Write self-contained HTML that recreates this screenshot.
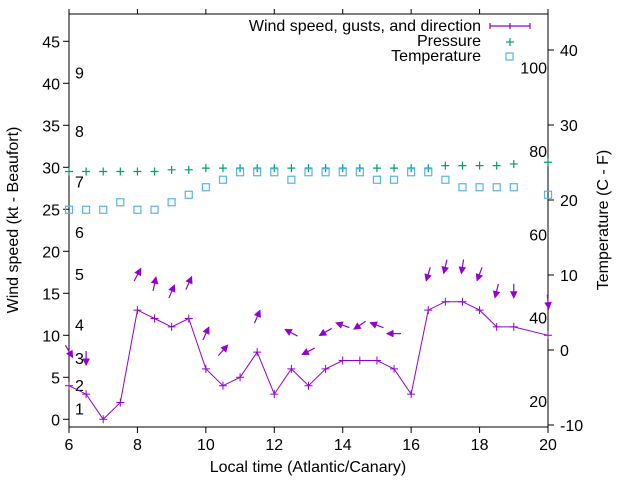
<!DOCTYPE html>
<html><head><meta charset="utf-8"><style>
body{margin:0;background:#fff}
svg{display:block;font-family:"Liberation Sans",sans-serif}
</style></head><body>
<svg id="chart" width="640" height="480" viewBox="0 0 640 480" xmlns="http://www.w3.org/2000/svg">
<g id="axes"></g>
<g id="series"></g>
<g id="legend">
  <text x="481" y="31" text-anchor="end" font-size="16">Wind speed, gusts, and direction</text>
  <g stroke="#9400d3" stroke-width="1.2">
    <line x1="490" y1="26" x2="530" y2="26"/><line x1="490" y1="23" x2="490" y2="29"/><line x1="510" y1="23" x2="510" y2="29"/><line x1="530" y1="23" x2="530" y2="29"/>
  </g>
  <text x="481" y="46" text-anchor="end" font-size="16">Pressure</text>
  <g stroke="#009e73" stroke-width="1.2"><line x1="506" y1="42" x2="514" y2="42"/><line x1="510" y1="38" x2="510" y2="46"/></g>
  <text x="481" y="61" text-anchor="end" font-size="16">Temperature</text>
  <rect x="506" y="53" width="7" height="7" fill="none" stroke="#56b4e9" stroke-width="1.2"/>
</g>
</svg>
<script>
const windTimes=[6,6.5,7,7.5,8,8.5,9,9.5,10,10.5,11,11.5,12,12.5,13,13.5,14,14.5,15,15.5,16,16.5,17,17.5,18,18.5,19,20];
const windSpeed=[4,3,0,2,13,12,11,12,6,4,5,8,3,6,4,6,7,7,7,6,3,13,14,14,13,11,11,10];
const pressTimes=[6,6.5,7,7.5,8,8.5,9,9.5,10,10.5,11,11.5,12,12.5,13,13.5,14,14.5,15,15.5,16,16.5,17,17.5,18,18.5,19,20];
const pressure=[29.5,29.5,29.5,29.5,29.5,29.5,29.7,29.7,29.9,29.9,29.9,29.9,29.9,29.9,29.9,29.9,29.9,29.9,29.9,29.9,29.9,29.9,30.2,30.2,30.2,30.2,30.4,30.6];
const tempTimes=[6,6.5,7,7.5,8,8.5,9,9.5,10,10.5,11,11.5,12,12.5,13,13.5,14,14.5,15,15.5,16,16.5,17,17.5,18,18.5,19,20];
const temperature=[18.7,18.7,18.7,19.7,18.7,18.7,19.7,20.7,21.7,22.7,23.7,23.7,23.7,22.7,23.7,23.7,23.7,23.7,22.7,22.7,23.7,23.7,22.7,21.7,21.7,21.7,21.7,20.7];
const arrowTimes=[6,6.5,8,8.5,9,9.5,10,10.5,11.5,12.5,13,13.5,14,14.5,15,15.5,16.5,17,17.5,18,18.5,19,20];
const arrowLevel=[8.1,7.3,17.2,16.1,15.2,16.2,10.2,8.2,12.2,10.3,8.1,10.4,11.2,11.2,11.2,10.2,17.3,18.2,18.2,17.3,15.3,15.3,14.0];
const arrowBearing=[149,180,28,12,23,24,25,42,23,298,243,240,290,236,291,270,197,193,189,201,194,180,174];
const xTicks=[6,8,10,12,14,16,18,20];
const yTicks=[0,5,10,15,20,25,30,35,40,45];
const y2Ticks=[-10,0,10,20,30,40];
const fLabels=[20,40,60,80,100];
const bftLabels=[1,2,3,4,5,6,7,8,9];
const bftLevels=[1.3,4.1,7.3,11.3,17.3,22.3,28.3,34.3,41.3];

const L=69,R=548,T=14,B=427;
const xs=t=>L+(t-6)*(R-L)/14;
const ys=v=>419.3-v*8.4;
const y2=c=>350-c*7.5;
const NS='http://www.w3.org/2000/svg';
function mk(tag,attrs,parent,text){const e=document.createElementNS(NS,tag);for(const k in attrs)e.setAttribute(k,attrs[k]);if(text!==undefined)e.textContent=text;parent.appendChild(e);return e;}
const ax=document.getElementById('axes'),se=document.getElementById('series');

let e=mk('rect',{x:L,y:T,width:R-L,height:B-T,fill:'none',stroke:'#000','stroke-width':1},ax);


xTicks.forEach(t=>{
  const x=xs(t);
  let l=mk('line',{x1:x,y1:B,x2:x,y2:B+6,stroke:'#000'},ax);
  
  
  l=mk('line',{x1:x,y1:T,x2:x,y2:T-5,stroke:'#000'},ax);
  
  
  const tx=mk('text',{x:x,y:B+23,'text-anchor':'middle','font-size':16},ax,String(t));
  
  
});
yTicks.forEach(v=>{
  const y=ys(v);
  const l=mk('line',{x1:L-6,y1:y,x2:L,y2:y,stroke:'#000'},ax);
  
  
  const tx=mk('text',{x:L-9,y:y+6,'text-anchor':'end','font-size':16},ax,String(v));
  
  
});
y2Ticks.forEach(v=>{
  const y=y2(v);
  const l=mk('line',{x1:R,y1:y,x2:R+6,y2:y,stroke:'#000'},ax);
  
  
  const tx=mk('text',{x:R+12,y:y+6,'text-anchor':'start','font-size':16},ax,String(v));
  
  
});
fLabels.forEach(f=>{
  const y=y2((f-32)*5/9);
  const tx=mk('text',{x:R-1,y:y+7,'text-anchor':'end','font-size':16},ax,String(f));
  
  
});
bftLabels.forEach((b,i)=>{
  const tx=mk('text',{x:75,y:ys(bftLevels[i])+6,'text-anchor':'start','font-size':16},ax,String(b));
  
  
});
let t1=mk('text',{x:308,y:472,'text-anchor':'middle','font-size':16},ax,'Local time (Atlantic/Canary)');


let t2=mk('text',{x:0,y:0,'text-anchor':'middle','font-size':16,transform:'translate(18,220) rotate(-90)'},ax,'Wind speed (kt - Beaufort)');


let t3=mk('text',{x:0,y:0,'text-anchor':'middle','font-size':16,transform:'translate(608,220) rotate(-90)'},ax,'Temperature (C - F)');



const pts=windTimes.map((t,i)=>xs(t)+','+ys(windSpeed[i])).join(' ');
let pl=mk('polyline',{points:pts,fill:'none',stroke:'#9400d3','stroke-width':1},se);


windTimes.forEach((t,i)=>{
  const x=xs(t),y=ys(windSpeed[i]);
  const p=mk('path',{d:`M${x-4},${y}H${x+4}M${x},${y-4}V${y+4}`,stroke:'#9400d3','stroke-width':1},se);
  
  
});
pressTimes.forEach((t,i)=>{
  const x=xs(t),y=ys(pressure[i]);
  const p=mk('path',{d:`M${x-4},${y}H${x+4}M${x},${y-4}V${y+4}`,stroke:'#009e73','stroke-width':1.2},se);
  
  
});
tempTimes.forEach((t,i)=>{
  const x=xs(t),y=y2(temperature[i]);
  const r=mk('rect',{x:x-3.5,y:y-3.5,width:7,height:7,fill:'none',stroke:'#56b4e9','stroke-width':1.2},se);
  
  
});
arrowTimes.forEach((t,i)=>{
  const cx=xs(t),cy=ys(arrowLevel[i]);
  const a=arrowBearing[i]*Math.PI/180;
  const dx=Math.sin(a),dy=-Math.cos(a),len=14;
  const hx=cx+dx*len/2,hy=cy+dy*len/2,tx=cx-dx*len/2,ty=cy-dy*len/2;
  const bx=hx-dx*6,by=hy-dy*6,px=-dy*3,py=dx*3;
  const g=mk('g',{},se);
  
  
  mk('line',{x1:tx,y1:ty,x2:hx,y2:hy,stroke:'#9400d3','stroke-width':1.2},g);
  mk('polygon',{points:`${hx},${hy} ${bx+px},${by+py} ${bx-px},${by-py}`,fill:'#9400d3',stroke:'#9400d3'},g);
});
</script>
</body></html>
